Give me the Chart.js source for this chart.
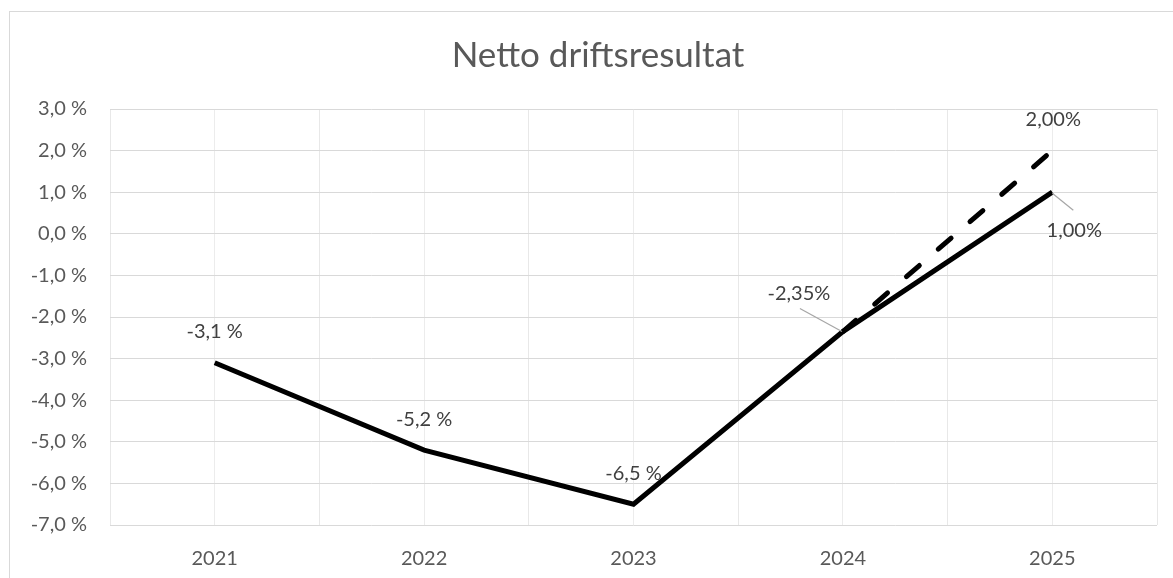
<!DOCTYPE html>
<html>
<head>
<meta charset="utf-8">
<script src="https://cdn.jsdelivr.net/npm/chart.js@4/dist/chart.umd.min.js"></script>
<style>
html,body{margin:0;padding:0;background:#fff;}
#wrap{width:1173px;height:578px;position:relative;}
</style>
</head>
<body>
<div id="wrap"><canvas id="c" width="1173" height="578"></canvas></div>
<script>
const categories = ['2021', '2022', '2023', '2024', '2025'];
const actualValues = [-3.1, -5.2, -6.5, -2.35, 1.0];
const targetValues = [null, null, null, -2.35, 2.0];
const yTickMin = -7;
const yTickMax = 3;
const chartTitle = 'Netto driftsresultat';

const FONT = 'Lato, "Open Sans", sans-serif';

function fmt(v, i) {
  if (i < 3) return v.toFixed(1).replace('.', ',') + ' %';
  return v.toFixed(2).replace('.', ',') + '%';
}

const framePlugin = {
  id: 'frame',
  beforeDraw(chart) {
    const ctx = chart.ctx;
    ctx.save();
    ctx.fillStyle = '#fff';
    ctx.fillRect(0, 0, chart.width, chart.height);
    ctx.strokeStyle = '#d9d9d9';
    ctx.lineWidth = 1;
    ctx.strokeRect(9.5, 11.5, 1300, 700);
    ctx.fillStyle = '#595959';
    ctx.font = '35px ' + FONT;
    ctx.textAlign = 'center';
    ctx.textBaseline = 'middle';
    ctx.fillText(chartTitle, 598, 56);
    ctx.restore();
  }
};

const labelPlugin = {
  id: 'dlabels',
  afterDatasetsDraw(chart) {
    const ctx = chart.ctx;
    ctx.save();
    ctx.font = '20px ' + FONT;
    ctx.fillStyle = '#404040';
    ctx.textAlign = 'center';
    ctx.textBaseline = 'middle';
    const m0 = chart.getDatasetMeta(0);
    const m1 = chart.getDatasetMeta(1);
    actualValues.forEach((v, i) => {
      const p = m0.data[i];
      const txt = fmt(v, i);
      if (i < 3) {
        ctx.fillText(txt, p.x, p.y - 31);
      } else if (i === 3) {
        ctx.fillText(txt, p.x - 44, p.y - 38);
        ctx.strokeStyle = '#a6a6a6';
        ctx.lineWidth = 1.2;
        ctx.beginPath();
        ctx.moveTo(p.x - 43, p.y - 23);
        ctx.lineTo(p.x - 1, p.y + 0);
        ctx.stroke();
      } else {
        ctx.fillText(txt, p.x + 22, p.y + 38);
        ctx.strokeStyle = '#a6a6a6';
        ctx.lineWidth = 1.2;
        ctx.beginPath();
        ctx.moveTo(p.x, p.y + 1);
        ctx.lineTo(p.x + 21, p.y + 18);
        ctx.stroke();
      }
    });
    const p = m1.data[4];
    ctx.fillText(fmt(targetValues[4], 4), p.x + 1, p.y - 31);
    ctx.restore();
  }
};

new Chart(document.getElementById('c'), {
  type: 'line',
  data: {
    labels: categories,
    datasets: [
      {
        label: 'Netto driftsresultat',
        data: actualValues,
        borderColor: '#000',
        borderWidth: 5,
        pointRadius: 0,
        tension: 0,
        borderJoinStyle: 'miter',
        order: 2
      },
      {
        label: 'Mål',
        data: targetValues,
        borderColor: '#000',
        borderWidth: 5,
        borderDash: [17, 25],
        borderCapStyle: 'round',
        pointRadius: 0,
        tension: 0,
        spanGaps: false,
        order: 1
      }
    ]
  },
  options: {
    responsive: false,
    animation: false,
    devicePixelRatio: 1,
    layout: { padding: { left: 0, top: 109, right: 16, bottom: 0 } },
    plugins: {
      legend: { display: false },
      title: { display: false },
      tooltip: { enabled: false }
    },
    scales: {
      x: {
        type: 'category',
        offset: true,
        grid: { offset: true, color: '#e8e8e8', drawTicks: false },
        border: { display: false },
        ticks: { color: '#595959', font: { family: FONT, size: 20 }, padding: 22 },
        afterFit(s) { s.height = 53; }
      },
      x2: {
        type: 'category',
        position: 'bottom',
        offset: true,
        grid: { offset: false, color: '#ececec', drawTicks: false },
        border: { display: false },
        ticks: { display: false },
        afterFit(s) { s.height = 0; }
      },
      y: {
        min: yTickMin,
        max: yTickMax,
        ticks: {
          stepSize: 1,
          color: '#595959',
          font: { family: FONT, size: 20 },
          padding: 23,
          callback: v => v.toFixed(1).replace('.', ',') + ' %'
        },
        grid: { color: '#d9d9d9', drawTicks: false },
        border: { display: false },
        afterFit(s) { s.width = 110; }
      }
    }
  },
  plugins: [framePlugin, labelPlugin]
});
</script>
</body>
</html>
